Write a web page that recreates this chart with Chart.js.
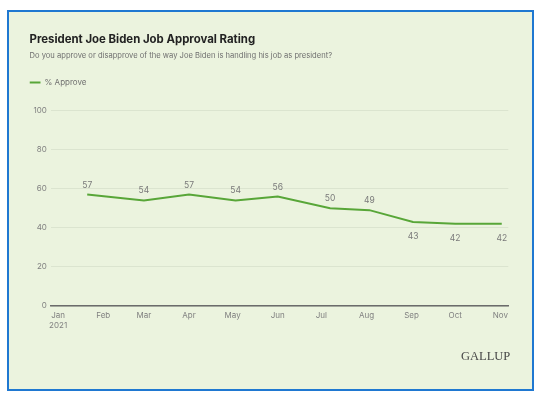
<!DOCTYPE html>
<html>
<head>
<meta charset="utf-8">
<script src="https://cdn.jsdelivr.net/npm/chart.js@4.4.1/dist/chart.umd.min.js"></script>
<style>
    body { margin: 0; background: #fff; width: 541px; height: 397px; overflow: hidden; position: relative; }
    .frame { position: absolute; left: 7px; top: 10px; width: 523px; height: 377px; border: 2px solid #1f78d1; background: #ebf3de; }
    #chart { position: absolute; left: 0; top: 0; }
    .brand { position: absolute; left: 461px; top: 349px; font-family: "Liberation Serif", serif; font-size: 12.5px; color: #474747; }
</style>
</head>
<body>
<div class="frame"></div>
<canvas id="chart" width="541" height="397"></canvas>
<div class="brand">GALLUP</div>
<script>
// data (x = day of year 2021)
const monthLabels = ['Jan', 'Feb', 'Mar', 'Apr', 'May', 'Jun', 'Jul', 'Aug', 'Sep', 'Oct', 'Nov'];
const monthStartDays = [0, 31, 59, 90, 120, 151, 181, 212, 243, 273, 304];
const pollDays = [20, 59, 90, 122, 151, 187, 214, 244, 273, 305];
const approve = [57, 54, 57, 54, 56, 50, 49, 43, 42, 42];
const yearLabel = '2021';

const green = '#58a638';
const grey = '#808080';

// angka di atas / bawah garis
const valueLabels = {
    id: 'valueLabels',
    afterDatasetsDraw(chart) {
        const ctx = chart.ctx;
        const meta = chart.getDatasetMeta(0);
        ctx.save();
        ctx.font = '8.5px Inter';
        ctx.fillStyle = '#7a7a7a';
        ctx.textAlign = 'center';
        ctx.textBaseline = 'middle';
        meta.data.forEach((pt, i) => {
            const v = approve[i];
            const y = v < 45 ? pt.y + 15 : pt.y - 9.5;
            ctx.fillText(v, pt.x, y);
        });
        ctx.restore();
    }
};

// ruang tambahan di bawah legenda
const legendSpace = {
    id: 'legendSpace',
    beforeInit(chart) {
        const fit = chart.legend.fit;
        chart.legend.fit = function () {
            fit.bind(chart.legend)();
            this.height += 13.8;
        };
    }
};

const data = pollDays.map((d, i) => ({ x: d, y: approve[i] }));

new Chart(document.getElementById('chart'), {
    type: 'line',
    data: {
        datasets: [{
            label: '% Approve',
            data: data,
            borderColor: green,
            backgroundColor: green,
            borderWidth: 2,
            pointRadius: 0,
            tension: 0
        }]
    },
    options: {
        responsive: false,
        animation: false,
        layout: { padding: { left: 29.5, right: 32.7, top: 0, bottom: 61.8 } },
        plugins: {
            title: {
                display: true,
                text: 'President Joe Biden Job Approval Rating',
                align: 'start',
                color: '#222',
                font: { family: 'Inter', size: 11.4, weight: 'bold' },
                padding: { top: 32.5, bottom: 4.5 }
            },
            subtitle: {
                display: true,
                text: 'Do you approve or disapprove of the way Joe Biden is handling his job as president?',
                align: 'start',
                color: '#6f6f6f',
                font: { family: 'Inter', size: 7.6 },
                padding: { top: 0.4, bottom: 18.4 }
            },
            legend: {
                display: true,
                align: 'start',
                labels: {
                    usePointStyle: true,
                    pointStyle: 'line',
                    pointStyleWidth: 11,
                    padding: 0,
                    color: '#6f6f6f',
                    font: { family: 'Inter', size: 8 }
                }
            },
            tooltip: { enabled: false }
        },
        scales: {
            x: {
                type: 'linear',
                min: -5,
                max: 309.5,
                afterBuildTicks: axis => { axis.ticks = monthStartDays.map(v => ({ value: v })); },
                ticks: {
                    autoSkip: false,
                    maxRotation: 0,
                    padding: 5,
                    color: grey,
                    font: { family: 'Inter', size: 8 },
                    callback: (v) => {
                        const i = monthStartDays.indexOf(v);
                        return i === 0 ? [monthLabels[0], yearLabel] : monthLabels[i];
                    }
                },
                grid: { display: false, drawTicks: false, tickLength: 0 },
                border: { display: true, color: '#6b6b6b', width: 1.5 }
            },
            y: {
                min: 0,
                max: 100,
                ticks: {
                    stepSize: 20,
                    padding: 4,
                    color: grey,
                    font: { family: 'Inter', size: 8 }
                },
                grid: { color: '#dbe4cf', drawTicks: false, tickLength: 0 },
                border: { display: false }
            }
        }
    },
    plugins: [valueLabels, legendSpace]
});
</script>
</body>
</html>
